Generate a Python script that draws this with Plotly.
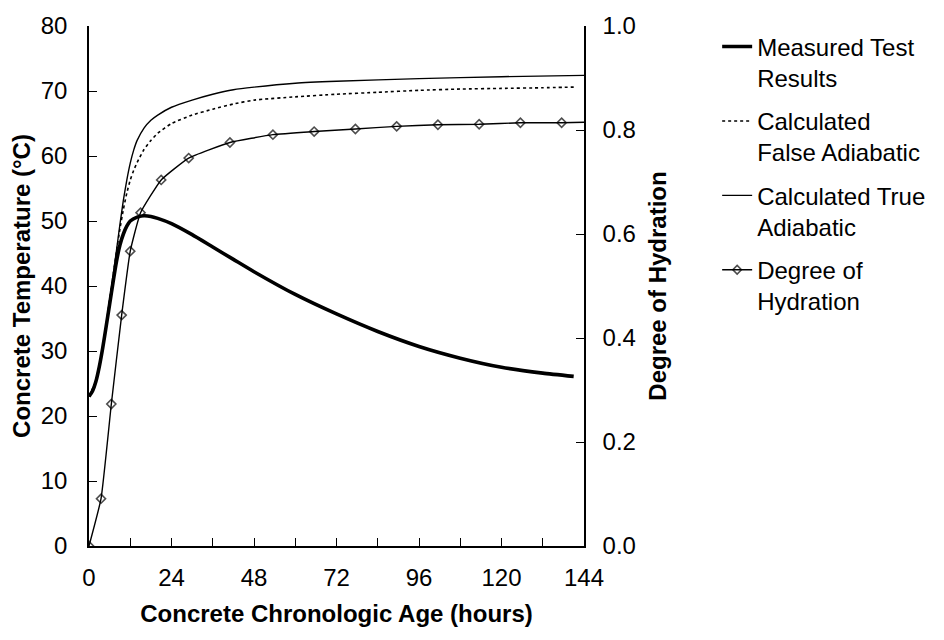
import plotly.graph_objects as go

# Measured concrete temperature (deg C) vs chronologic age (hours)
hours_measured = [0, 1, 2, 3, 4, 5, 6, 7, 8, 9, 10, 11, 12, 14, 16, 18, 20, 24, 30,
                  36, 42, 48, 60, 72, 84, 96, 108, 120, 132, 141]
temp_measured = [23.0, 23.8, 25.3, 27.6, 30.5, 33.8, 37.2, 40.6, 43.8, 46.3, 48.0,
                 49.2, 50.0, 50.6, 50.8, 50.7, 50.4, 49.6, 47.9, 46.0, 44.1, 42.2,
                 38.7, 35.7, 33.0, 30.7, 28.9, 27.5, 26.6, 26.1]

# Calculated false adiabatic temperature
hours_false = [0, 2, 4, 6, 8, 9, 10, 11, 12, 13, 14, 16, 18, 20, 24, 30, 36, 42,
               48, 60, 72, 84, 96, 108, 120, 132, 141]
temp_false = [23.0, 25.4, 30.6, 37.8, 45.3, 48.8, 51.8, 54.3, 56.3, 57.8, 59.0,
              61.0, 62.4, 63.5, 65.0, 66.3, 67.2, 68.0, 68.6, 69.1, 69.5, 69.8,
              70.1, 70.3, 70.4, 70.5, 70.6]

# Calculated true adiabatic temperature
hours_true = [0, 2, 4, 6, 8, 9, 10, 11, 12, 13, 14, 16, 18, 20, 24, 30, 36, 42, 48,
              60, 72, 96, 120, 144]
temp_true = [23.0, 25.4, 30.6, 37.8, 45.5, 49.5, 53.2, 56.3, 58.9, 60.9, 62.4, 64.3,
             65.5, 66.3, 67.5, 68.6, 69.5, 70.2, 70.6, 71.2, 71.5, 71.9, 72.2, 72.4]

# Degree of hydration (right axis)
hours_doh = [0, 3.5, 6.5, 9.5, 12, 15, 21, 29, 41, 53.5, 65.5, 77.5, 89.5, 101.5,
             113.5, 125.5, 137.5, 144]
degree_doh = [0.0, 0.091, 0.273, 0.444, 0.567, 0.641, 0.704, 0.746, 0.776, 0.791,
              0.797, 0.802, 0.807, 0.810, 0.811, 0.814, 0.814, 0.815]

x_ticks = [0, 24, 48, 72, 96, 120, 144]
temp_ticks = [0, 10, 20, 30, 40, 50, 60, 70, 80]
doh_ticks = [0.0, 0.2, 0.4, 0.6, 0.8, 1.0]

FONT = "Liberation Sans, Arial, sans-serif"
BLACK = "#000000"
TICK_SIZE = 24
TITLE_SIZE = 24

fig = go.Figure()

fig.add_trace(go.Scatter(
    x=hours_measured, y=temp_measured, mode="lines", name="Measured Test<br>Results",
    line=dict(color=BLACK, width=3.6, shape="spline", smoothing=0.5),
    legendgroup="a",
))
fig.add_trace(go.Scatter(
    x=hours_false, y=temp_false, mode="lines", name="Calculated<br>False Adiabatic",
    line=dict(color=BLACK, width=1.6, dash="dot", shape="spline", smoothing=0.5),
    legendgroup="b",
))
fig.add_trace(go.Scatter(
    x=hours_true, y=temp_true, mode="lines", name="Calculated True<br>Adiabatic",
    line=dict(color=BLACK, width=1.4, shape="spline", smoothing=0.5),
    legendgroup="c",
))
marker_sizes = [7] * (len(hours_doh) - 1) + [0]
fig.add_trace(go.Scatter(
    x=hours_doh, y=degree_doh, mode="lines+markers", name="Degree of<br>Hydration",
    yaxis="y2",
    line=dict(color=BLACK, width=1.4, shape="spline", smoothing=0.4),
    marker=dict(symbol="diamond-open", size=marker_sizes, color=BLACK,
                line=dict(color=BLACK, width=1.6)),
    legendgroup="d",
))

fig.update_layout(
    width=944, height=640,
    margin=dict(l=89, r=360, t=19, b=94),
    paper_bgcolor="white", plot_bgcolor="white",
    font=dict(family=FONT, size=TICK_SIZE, color=BLACK),
    showlegend=True,
    legend=dict(
        x=1.269, xanchor="left", y=1.003, yanchor="top",
        font=dict(family=FONT, size=24, color=BLACK),
        valign="top", tracegroupgap=9, bgcolor="rgba(0,0,0,0)",
        traceorder="grouped",
    ),
    xaxis=dict(
        range=[0, 144], tickvals=x_ticks, ticktext=[str(v) for v in x_ticks],
        ticks="inside", ticklen=8, tickwidth=1.2, tickcolor=BLACK,
        minor=dict(dtick=12, tick0=0, ticks="inside", ticklen=8, tickwidth=1.2,
                   tickcolor=BLACK, showgrid=False),
        showline=True, linecolor=BLACK, linewidth=1.5, showgrid=False, zeroline=False,
        tickfont=dict(size=TICK_SIZE), ticklabelstandoff=9,
        title=dict(text="<b>Concrete Chronologic Age (hours)</b>",
                   font=dict(size=TITLE_SIZE), standoff=16),
    ),
    yaxis=dict(
        range=[0, 80], tickvals=temp_ticks,
        ticks="inside", ticklen=8, tickwidth=1.2, tickcolor=BLACK,
        showline=True, linecolor=BLACK, linewidth=1.5, showgrid=False, zeroline=False,
        tickfont=dict(size=TICK_SIZE), ticklabelstandoff=15,
        title=dict(text="<b>Concrete Temperature (°C)</b>",
                   font=dict(size=TITLE_SIZE), standoff=3),
    ),
    yaxis2=dict(
        range=[0, 1], tickvals=doh_ticks, tickformat=".1f",
        overlaying="y", side="right",
        ticks="inside", ticklen=8, tickwidth=1.2, tickcolor=BLACK,
        showline=True, linecolor=BLACK, linewidth=1.5, showgrid=False, zeroline=False,
        tickfont=dict(size=TICK_SIZE), ticklabelstandoff=12,
        title=dict(text="<b>Degree of Hydration</b>", font=dict(size=TITLE_SIZE),
                   standoff=14),
    ),
)

fig.write_html("out.html")
